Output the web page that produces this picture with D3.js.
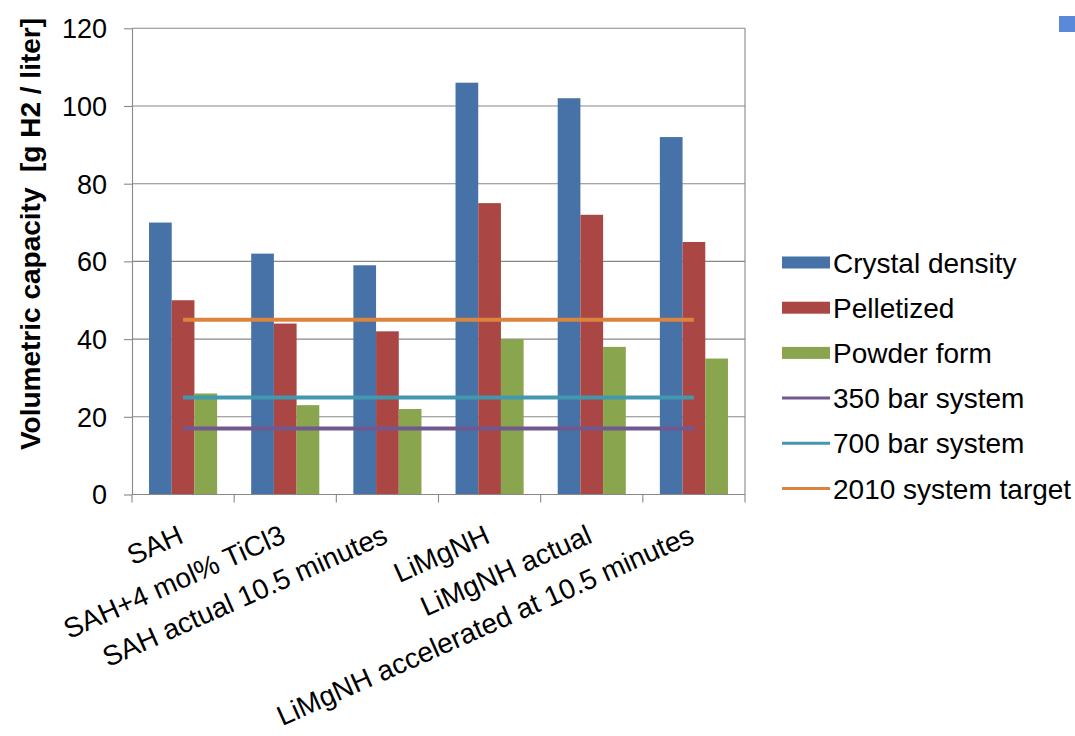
<!DOCTYPE html>
<html>
<head>
<meta charset="utf-8">
<script src="https://cdn.jsdelivr.net/npm/d3@7/dist/d3.min.js"></script>
<style>
  html, body { margin: 0; padding: 0; background: #ffffff; }
  svg { display: block; font-family: "Liberation Sans", Arial, sans-serif; }
</style>
</head>
<body>
<svg id="chart" width="1075" height="736"></svg>
<script>
// Materials / storage forms
const categories = [
  "SAH",
  "SAH+4 mol% TiCl3",
  "SAH actual 10.5 minutes",
  "LiMgNH",
  "LiMgNH actual",
  "LiMgNH accelerated at 10.5 minutes"
];

// Bar series (g H2 / liter)
const barSeries = ["Crystal density", "Pelletized", "Powder form"];
const crystalDensity = [70, 62, 59, 106, 102, 92];
const pelletized     = [50, 44, 42, 75, 72, 65];
const powderForm     = [26, 23, 22, 40, 38, 35];

// Reference system lines (constant across categories)
const lineSeries = ["350 bar system", "700 bar system", "2010 system target"];
const bar350 = [17, 17, 17, 17, 17, 17];
const bar700 = [25, 25, 25, 25, 25, 25];
const target2010 = [45, 45, 45, 45, 45, 45];

const yTicks = [0, 20, 40, 60, 80, 100, 120];

const barColors  = ["#4672A7", "#AA4643", "#89A54E"];
const lineColors = ["#71588F", "#4198AF", "#DB843D"];

const barData  = [crystalDensity, pelletized, powderForm];
const lineData = [bar350, bar700, target2010];

const svg = d3.select("#chart");
const plot = { left: 132, right: 745, top: 28.3, bottom: 494.5 };
const gridColor = "#888888";

const x0 = d3.scaleBand().domain(categories).range([plot.left, plot.right]).padding(0);
const x1 = d3.scaleBand().domain(barSeries).range([0, x0.bandwidth()])
  .paddingInner(0).paddingOuter(0.75);
const y = d3.scaleLinear().domain([0, 120]).range([plot.bottom, plot.top]);

// Horizontal gridlines
svg.append("g").selectAll("line")
  .data(yTicks.filter(d => d > 0))
  .join("line")
  .attr("x1", plot.left).attr("x2", plot.right)
  .attr("y1", d => y(d)).attr("y2", d => y(d))
  .attr("stroke", gridColor).attr("stroke-width", 1.1);

// Right border of plot area
svg.append("line")
  .attr("x1", plot.right).attr("x2", plot.right)
  .attr("y1", plot.top).attr("y2", plot.bottom)
  .attr("stroke", gridColor).attr("stroke-width", 1.1);

// Bars
const groups = svg.append("g").selectAll("g")
  .data(barData)
  .join("g")
  .attr("fill", (d, i) => barColors[i]);
groups.each(function (values, si) {
  d3.select(this).selectAll("rect")
    .data(values)
    .join("rect")
    .attr("x", (v, ci) => x0(categories[ci]) + x1(barSeries[si]))
    .attr("width", x1.bandwidth())
    .attr("y", v => y(v))
    .attr("height", v => y(0) - y(v));
});

// Y axis
const yAxis = d3.axisLeft(y).tickValues(yTicks).tickSize(8).tickPadding(17).tickSizeOuter(0);
const gy = svg.append("g").attr("transform", `translate(${plot.left},0)`).call(yAxis);
gy.select(".domain").attr("stroke", gridColor).attr("stroke-width", 1.1);
gy.selectAll(".tick line").attr("stroke", gridColor).attr("stroke-width", 1.1);
gy.selectAll(".tick text")
  .attr("font-size", 27).attr("fill", "#000").attr("dy", "0.35em")
  .style("font-family", "'Liberation Sans', Arial, sans-serif");

// X axis line with boundary ticks
svg.append("line")
  .attr("x1", plot.left).attr("x2", plot.right)
  .attr("y1", plot.bottom).attr("y2", plot.bottom)
  .attr("stroke", gridColor).attr("stroke-width", 1.1);
const boundaries = categories.map(c => x0(c)).concat([x0(categories[categories.length - 1]) + x0.bandwidth()]);
svg.append("g").selectAll("line")
  .data(boundaries)
  .join("line")
  .attr("x1", d => d).attr("x2", d => d)
  .attr("y1", plot.bottom).attr("y2", plot.bottom + 8)
  .attr("stroke", gridColor).attr("stroke-width", 1.1);

// Rotated category labels
svg.append("g").selectAll("text")
  .data(categories)
  .join("text")
  .attr("transform", d => `translate(${x0(d) + x0.bandwidth() / 2 + 2},542) rotate(-24)`)
  .attr("text-anchor", "end")
  .attr("font-size", 28)
  .attr("fill", "#000")
  .text(d => d);

// Reference lines through category centres
const line = d3.line()
  .x((v, i) => x0(categories[i]) + x0.bandwidth() / 2)
  .y(v => y(v));
svg.append("g").selectAll("path")
  .data(lineData)
  .join("path")
  .attr("d", d => line(d))
  .attr("fill", "none")
  .attr("stroke", (d, i) => lineColors[i])
  .attr("stroke-width", 4);

// Y axis title
svg.append("text")
  .attr("transform", "translate(40,234) rotate(-90)")
  .attr("text-anchor", "middle")
  .attr("font-size", 28)
  .attr("font-weight", "bold")
  .attr("fill", "#000")
  .style("white-space", "pre")
  .text("Volumetric capacity  [g H2 / liter]");

// Legend
const legendItems = barSeries.map((s, i) => ({ name: s, color: barColors[i], type: "bar" }))
  .concat(lineSeries.map((s, i) => ({ name: s, color: lineColors[i], type: "line" })));
const legend = svg.append("g").selectAll("g")
  .data(legendItems)
  .join("g")
  .attr("transform", (d, i) => `translate(782,${262.5 + i * 45.2})`);
legend.filter(d => d.type === "bar").append("rect")
  .attr("x", 0).attr("y", -6).attr("width", 48).attr("height", 12)
  .attr("fill", d => d.color);
legend.filter(d => d.type === "line").append("line")
  .attr("x1", 0).attr("x2", 48).attr("y1", 0).attr("y2", 0)
  .attr("stroke", d => d.color).attr("stroke-width", 3);
legend.append("text")
  .attr("x", 51).attr("y", 10)
  .attr("font-size", 28)
  .attr("fill", "#000")
  .text(d => d.name);

// Small slide marker at the top-right corner
svg.append("rect")
  .attr("x", 1059).attr("y", 16).attr("width", 16).attr("height", 16)
  .attr("fill", "#5B89D9");
</script>
</body>
</html>
